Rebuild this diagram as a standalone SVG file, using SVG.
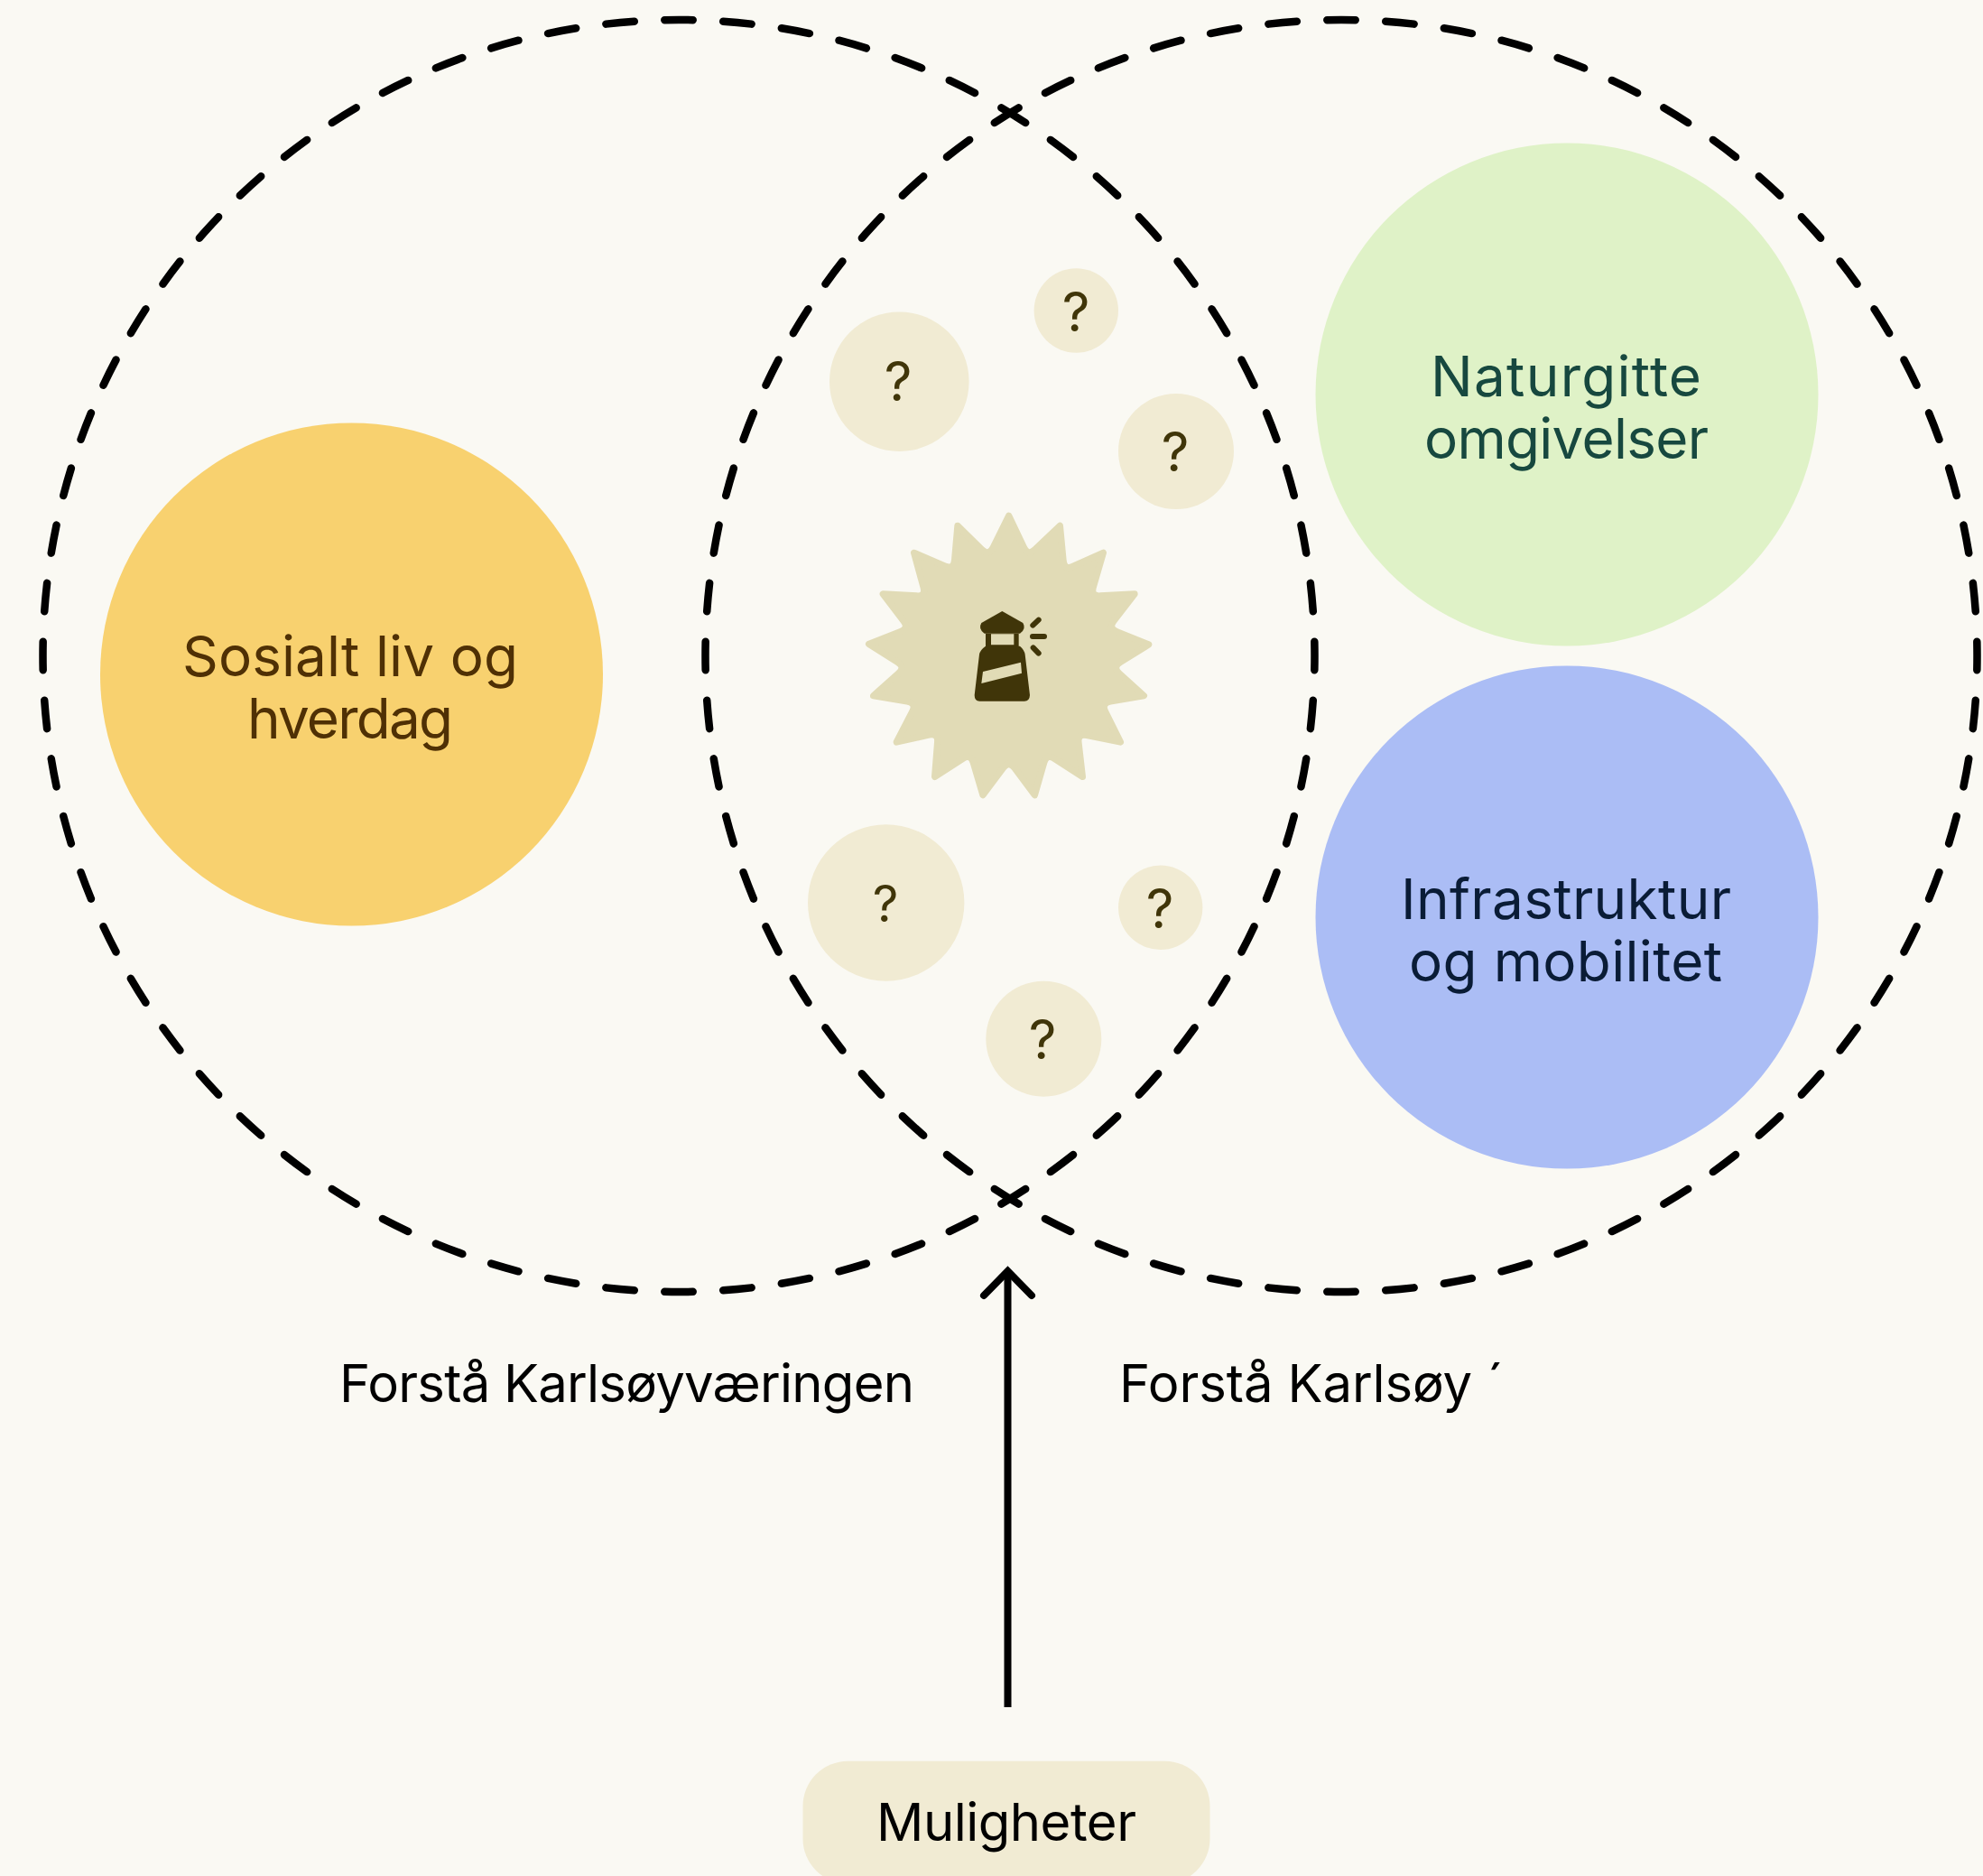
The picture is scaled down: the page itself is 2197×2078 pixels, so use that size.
<svg xmlns="http://www.w3.org/2000/svg" width="2197" height="2078" viewBox="0 0 2197 2078">
<style>
text{font-family:Inter,"Liberation Sans",sans-serif;font-weight:400;text-anchor:start}
.big{font-size:62px}
.lab{font-size:58px;fill:#000}
.q{font-size:60px;fill:#403509;text-anchor:middle}
.small{fill:#f1ebd3}
.venn{fill:none;stroke:#000;stroke-width:8.5;stroke-linecap:round;stroke-dasharray:.485 .515;stroke-dashoffset:.2425}
</style>
<rect width="2197" height="2078" fill="#faf9f3"/>
<g id="connectors">
<circle class="venn" cx="752" cy="726.5" r="704.5" pathLength="68"/>
<circle class="venn" cx="1486" cy="726.5" r="704.5" pathLength="68"/>
<g fill="none" stroke="#000" stroke-width="8" stroke-linecap="round" stroke-linejoin="miter">
<path d="M1116.5 1891V1410" stroke-linecap="butt"/>
<path d="M1090 1435L1116.5 1408L1143 1435"/>
</g>
</g>
<g id="sosialt"><circle cx="389.5" cy="747" r="278.5" fill="#f8d16f"/>
<text class="big" fill="#4f3005" x="202" y="749" textLength="372">Sosialt liv og</text>
<text class="big" fill="#4f3005" x="274" y="818" textLength="228">hverdag</text></g>
<g id="naturgitte"><circle cx="1736" cy="437" r="278.5" fill="#dff2c7"/>
<text class="big" fill="#17483f" x="1585" y="439" textLength="300">Naturgitte</text>
<text class="big" fill="#17483f" x="1578" y="508" textLength="315">omgivelser</text></g>
<g id="infrastruktur"><circle cx="1736" cy="1016" r="278.5" fill="#abbdf5"/>
<text class="big" fill="#0a1c36" x="1552" y="1018" textLength="366">Infrastruktur</text>
<text class="big" fill="#0a1c36" x="1561" y="1087" textLength="347">og mobilitet</text></g>
<g id="q1"><circle class="small" cx="996.3" cy="422.7" r="77.3"/><text class="q" x="995" y="444">?</text></g>
<g id="q2"><circle class="small" cx="1192.3" cy="344" r="46.7"/><text class="q" x="1192" y="367">?</text></g>
<g id="q3"><circle class="small" cx="1303" cy="500" r="64"/><text class="q" x="1302" y="522">?</text></g>
<g id="q4"><circle class="small" cx="981.7" cy="1000" r="86.7"/><text class="q" x="981" y="1021" style="font-size:56px">?</text></g>
<g id="q5"><circle class="small" cx="1285.7" cy="1005.3" r="46.7"/><text class="q" x="1285" y="1028">?</text></g>
<g id="q6"><circle class="small" cx="1156.3" cy="1150.7" r="64"/><text class="q" x="1155" y="1172.7">?</text></g>
<g id="lighthouse" transform="translate(930 550) scale(.33333)">
<path fill="#e1dbb6" stroke="#e1dbb6" stroke-width="22" stroke-linejoin="round" d="M563 64L613 169Q627 198 650 176L733 97L744 212Q747 245 776 232L877 187L844 300Q835 332 867 330L981 324L912 413Q893 438 923 450L1028 492L934 550Q907 567 930 588L1012 662L901 681Q870 687 884 715L934 816L822 793Q791 787 795 819L808 931L715 871Q689 854 680 884L649 992L582 902Q563 877 544 902L477 992L445 884Q436 854 410 871L317 931L326 817Q329 785 298 792L190 816L242 715Q257 687 225 681L113 662L196 588Q220 567 193 550L98 490L203 449Q232 438 213 413L145 324L257 330Q288 332 279 300L248 187L351 231Q380 243 383 211L393 97L473 176Q496 198 511 169Z"/>
<g fill="#403509">
<path d="M541 381L610 420Q622 440 600 455H482Q460 440 472 420Z"/>
<path fill-rule="evenodd" d="M486 455H596V497H600Q615 510 617 525L633 660Q632 680 615 680H466Q449 680 449 660L465 525Q467 510 486 497ZM504 457V493H580V457ZM477 582L472 621L606 587L603 551Z"/>
</g>
<path fill="none" stroke="#403509" stroke-width="18" stroke-linecap="round" d="M643 428L662 410M642 465H681M644 502L662 521"/>
</g>
<g id="label-left"><text class="lab" x="376" y="1553" textLength="637">Forstå Karlsøyværingen</text></g>
<g id="label-right"><text class="lab" x="1240" y="1553" textLength="426">Forstå Karlsøy ´</text></g>
<g id="muligheter"><rect x="889.5" y="1950.7" width="451" height="136" rx="50" fill="#f1ebd3"/>
<text class="lab" x="971" y="2039" textLength="288">Muligheter</text></g>
</svg>
